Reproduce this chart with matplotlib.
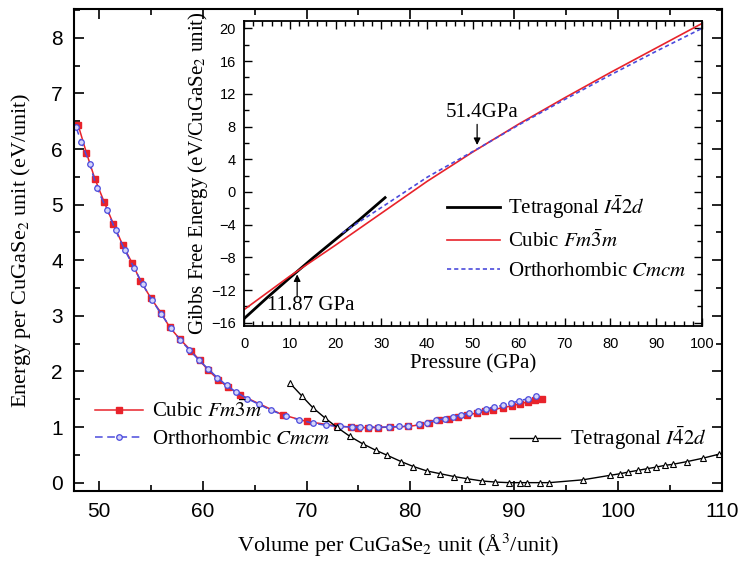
import numpy as np
import matplotlib
matplotlib.use("Agg")
import matplotlib.pyplot as plt
from matplotlib.ticker import MultipleLocator
from matplotlib.lines import Line2D

# ---------- data ----------
cubic_v = [48.0, 48.8, 49.6, 50.5, 51.4, 52.3, 53.2, 54.0, 55.0, 56.0, 56.8, 57.8,
           58.9, 59.7, 60.5, 61.5, 62.4, 63.6, 67.7, 70.0, 72.9, 74.3, 75.0, 75.9,
           76.9, 78.0, 79.8, 80.9, 81.8, 82.8, 83.7, 84.6, 85.5, 86.4, 87.2, 88.0,
           88.9, 89.8, 90.6, 91.3, 92.0, 92.7]
cubic_e = [6.43, 5.93, 5.47, 5.05, 4.65, 4.27, 3.95, 3.63, 3.32, 3.05, 2.80, 2.58,
           2.37, 2.20, 2.03, 1.85, 1.72, 1.58, 1.22, 1.10, 1.02, 1.00, 0.99, 0.99,
           0.99, 1.00, 1.01, 1.04, 1.08, 1.12, 1.15, 1.18, 1.22, 1.25, 1.28, 1.31,
           1.35, 1.38, 1.42, 1.45, 1.48, 1.51]

ortho_v = [47.8, 48.3, 49.1, 49.8, 50.8, 51.6, 52.5, 53.4, 54.2, 55.1, 56.0, 56.9,
           57.8, 58.7, 59.6, 60.5, 61.4, 62.3, 63.2, 64.3, 65.4, 66.6, 68.0, 69.3,
           70.6, 71.9, 73.2, 74.4, 75.2, 76.0, 76.9, 77.9, 78.9, 79.8, 80.8, 81.6,
           82.5, 83.3, 84.1, 84.9, 85.7, 86.5, 87.3, 88.1, 88.9, 89.7, 90.5, 91.3, 92.1]
ortho_e = [6.39, 6.13, 5.74, 5.30, 4.90, 4.54, 4.18, 3.86, 3.57, 3.29, 3.03, 2.79,
           2.57, 2.39, 2.21, 2.05, 1.89, 1.75, 1.63, 1.51, 1.41, 1.30, 1.20, 1.13,
           1.07, 1.03, 1.01, 1.00, 1.00, 1.00, 1.00, 1.00, 1.01, 1.02, 1.05, 1.08,
           1.12, 1.15, 1.18, 1.22, 1.25, 1.28, 1.32, 1.36, 1.39, 1.43, 1.47, 1.51, 1.56]

tetra_v = [68.4, 69.6, 70.6, 71.8, 72.9, 74.2, 75.4, 76.7, 77.8, 79.1, 80.3, 81.6,
           82.9, 84.2, 85.5, 86.9, 88.2, 89.5, 90.6, 91.2, 92.5, 93.4, 96.6, 99.2,
           100.2, 101.0, 101.9, 102.8, 103.7, 104.5, 105.3, 106.7, 108.2, 109.7, 111.0]
tetra_e = [1.79, 1.55, 1.35, 1.16, 1.00, 0.83, 0.70, 0.58, 0.49, 0.38, 0.29, 0.21,
           0.16, 0.11, 0.07, 0.03, 0.01, 0.00, 0.00, 0.00, 0.00, 0.00, 0.05, 0.13,
           0.16, 0.19, 0.22, 0.25, 0.28, 0.31, 0.33, 0.38, 0.44, 0.51, 0.56]

# inset: Gibbs free energy vs pressure
p_tetra = [0, 5, 10, 15, 20, 25, 30.8]
g_tetra = [-15.5, -12.95, -10.5, -8.1, -5.8, -3.5, -0.7]
p_cubic = [0, 10, 20, 30, 40, 50, 60, 70, 80, 90, 100]
g_cubic = [-14.4, -10.3, -6.5, -2.6, 1.3, 4.9, 8.3, 11.5, 14.6, 17.6, 20.6]
p_ortho = [21.5, 30, 40, 51.4, 60, 70, 80, 90, 100]
g_ortho = [-5.0, -1.9, 1.8, 5.4, 8.2, 11.3, 14.3, 17.2, 20.0]

RED = '#e8232b'
BLUE = '#4b4bdc'
SERIF = 'Liberation Serif'

plt.rcParams['font.family'] = 'Liberation Sans'
plt.rcParams['mathtext.fontset'] = 'stix'

fig = plt.figure(figsize=(7.44, 5.68), dpi=100)

# ========== main axes ==========
ax = fig.add_axes([0.0995, 0.1356, 0.8705, 0.8486])
l_cub, = ax.plot(cubic_v, cubic_e, '-', color=RED, lw=1.1, marker='s', ms=4.8,
                 mfc=RED, mec=RED, label=r'Cubic $\mathit{Fm}\bar{3}\mathit{m}$')
l_orth, = ax.plot(ortho_v, ortho_e, color=BLUE, lw=1.1, ls=(0, (5, 3)), marker='o',
                  ms=4.0, mfc='#d4d4fa', mec=BLUE, mew=0.9,
                  label=r'Orthorhombic $\mathit{Cmcm}$')
l_tet, = ax.plot(tetra_v, tetra_e, '-', color='black', lw=1.0, marker='^', ms=5,
                 mfc='white', mec='black', mew=0.8, label=r'Tetragonal $I\bar{4}2d$')

ax.set_xlim(47.6, 110)
ax.set_ylim(-0.15, 8.52)
ax.xaxis.set_major_locator(MultipleLocator(10))
ax.xaxis.set_minor_locator(MultipleLocator(5))
ax.yaxis.set_major_locator(MultipleLocator(1))
ax.yaxis.set_minor_locator(MultipleLocator(0.5))
ax.tick_params(which='both', direction='in', top=True, right=True, width=1.2)
ax.tick_params(which='major', length=7, labelsize=15, pad=8)
ax.tick_params(which='minor', length=4)
for s in ax.spines.values():
    s.set_linewidth(1.5)
ax.set_xlabel(r'Volume per CuGaSe$_2$ unit (Å$^3$/unit)', fontsize=16,
              family=SERIF, labelpad=8)
ax.set_ylabel(r'Energy per CuGaSe$_2$ unit (eV/unit)', fontsize=16,
              family=SERIF, labelpad=13)

leg1 = ax.legend(handles=[l_cub, l_orth], loc='center left',
                 bbox_to_anchor=(0.032, 0.137), frameon=False, numpoints=1,
                 prop={'family': SERIF, 'size': 15}, handlelength=2.3,
                 handletextpad=0.43, labelspacing=0.35, borderpad=0,
                 borderaxespad=0)
ax.add_artist(leg1)
ax.legend(handles=[l_tet], loc='center left', bbox_to_anchor=(0.673, 0.110),
          frameon=False, numpoints=1, prop={'family': SERIF, 'size': 15},
          handlelength=2.4, handletextpad=0.5, borderpad=0, borderaxespad=0)

# ========== inset ==========
ins = fig.add_axes([0.328, 0.426, 0.6155, 0.537])
i_tet, = ins.plot(p_tetra, g_tetra, color='black', lw=2.0,
                  label=r'Tetragonal $I\bar{4}2d$')
i_cub, = ins.plot(p_cubic, g_cubic, color=RED, lw=1.2,
                  label=r'Cubic $\mathit{Fm}\bar{3}\mathit{m}$')
i_orth, = ins.plot(p_ortho, g_ortho, color=BLUE, lw=1.2, ls=(0, (2.5, 1.8)),
                   label=r'Orthorhombic $\mathit{Cmcm}$')
ins.set_xlim(0, 100)
ins.set_ylim(-16.4, 20.9)
ins.xaxis.set_major_locator(MultipleLocator(10))
ins.xaxis.set_minor_locator(MultipleLocator(2))
ins.yaxis.set_major_locator(MultipleLocator(4))
ins.yaxis.set_minor_locator(MultipleLocator(2))
ins.tick_params(which='both', direction='in', top=True, right=True, width=1.0)
ins.tick_params(which='major', length=6, labelsize=10.5)
ins.tick_params(axis='x', which='major', pad=8)
ins.tick_params(axis='y', which='major', pad=6)
ins.tick_params(which='minor', length=3.5)
for s in ins.spines.values():
    s.set_linewidth(1.3)
ins.set_xlabel('Pressure (GPa)', fontsize=15, family=SERIF, labelpad=2)
ins.set_ylabel(r'Gibbs Free Energy (eV/CuGaSe$_2$ unit)', fontsize=15,
               family=SERIF, labelpad=1)

ins.annotate('', xy=(11.6, -9.75), xytext=(11.6, -13.2),
             arrowprops=dict(arrowstyle='-|>', color='black', lw=0.9,
                             mutation_scale=10))
ins.text(5.0, -13.9, '11.87 GPa', fontsize=15, family=SERIF, ha='left', va='center')
ins.annotate('', xy=(50.9, 5.4), xytext=(50.9, 8.6),
             arrowprops=dict(arrowstyle='-|>', color='black', lw=0.9,
                             mutation_scale=10))
ins.text(52.0, 9.7, '51.4GPa', fontsize=15, family=SERIF, ha='center', va='center')

ins.legend(handles=[i_tet, i_cub, i_orth], loc='center left',
           bbox_to_anchor=(0.443, 0.292), frameon=False,
           prop={'family': SERIF, 'size': 15}, handlelength=2.55,
           handletextpad=0.38, labelspacing=0.45, borderpad=0, borderaxespad=0)

fig.savefig('out.png', dpi=100)
